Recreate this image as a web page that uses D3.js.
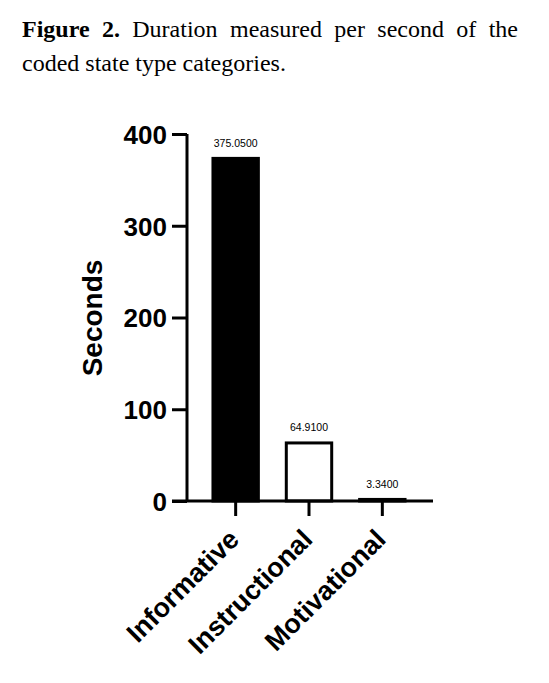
<!DOCTYPE html>
<html lang="en">
<head>
    <meta charset="UTF-8">
    <script src="https://d3js.org/d3.v7.min.js"></script>
    <title>Figure 2</title>
    <style>
        body { margin: 0; background: #fff; }
        #caption {
            position: absolute; left: 22px; top: 12px; width: 496px;
            font-family: "Times New Roman", "Liberation Serif", serif;
            font-size: 24px; line-height: 34px; color: #000;
        }
        #caption .first { text-align: justify; text-align-last: justify; }
        #chart { position: absolute; left: 0; top: 0; }
    </style>
</head>
<body>
    <div id="caption">
        <div class="first"><b>Figure&nbsp;2.</b> Duration measured per second of the</div>
        <div>coded state type categories.</div>
    </div>
    <svg id="chart"></svg>
    <script>
        //data
        const categories = ["Informative", "Instructional", "Motivational"];
        const seconds = [375.05, 64.91, 3.34];
        const valueLabels = ["375.0500", "64.9100", "3.3400"];
        const yTicks = [0, 100, 200, 300, 400];
        const fills = ["#000", "#fff", "#fff"];

        const w = 549;
        const h = 683;

        const svg = d3.select("#chart")
        .attr("width", w)
        .attr("height", h);

        //scales
        const yScale = d3.scaleLinear()
        .domain([0, 400])
        .range([501, 134]);

        const xScale = d3.scaleBand()
        .domain(categories)
        .range([199, 419])
        .paddingInner(0.34)
        .paddingOuter(0.17);

        //bars
        svg.selectAll("rect.bar")
        .data(seconds)
        .enter()
        .append("rect")
        .attr("class", "bar")
        .attr("x", (d, i) => xScale(categories[i]) + 1.5)
        .attr("y", d => yScale(d) + 1.5)
        .attr("width", xScale.bandwidth() - 3)
        .attr("height", d => Math.max(0, yScale(0) - yScale(d) - 1.5))
        .attr("fill", (d, i) => fills[i])
        .attr("stroke", "#000")
        .attr("stroke-width", 3);

        //value labels
        svg.selectAll("text.val")
        .data(valueLabels)
        .enter()
        .append("text")
        .attr("class", "val")
        .attr("x", (d, i) => xScale(categories[i]) + xScale.bandwidth() / 2)
        .attr("y", (d, i) => yScale(seconds[i]) - 10)
        .attr("text-anchor", "middle")
        .attr("font-family", "Arial, 'Liberation Sans', sans-serif")
        .attr("font-size", 10.5)
        .text(d => d);

        //y axis
        const yAxis = d3.axisLeft(yScale)
        .tickValues(yTicks)
        .tickSize(15)
        .tickPadding(5);

        const gy = svg.append("g")
        .attr("transform", "translate(187, 0)")
        .call(yAxis);

        gy.select(".domain").attr("stroke-width", 3).attr("d", "M0," + yScale(400) + "V" + yScale(0));
        gy.selectAll(".tick line").attr("stroke-width", 3);
        gy.selectAll(".tick text")
        .attr("font-family", "Arial, 'Liberation Sans', sans-serif")
        .attr("font-weight", "bold")
        .attr("font-size", 26)
        .attr("dy", "0.36em");

        //x axis
        const xAxis = d3.axisBottom(xScale)
        .tickSize(15)
        .tickSizeOuter(0);

        const gx = svg.append("g")
        .attr("transform", "translate(0, " + yScale(0) + ")")
        .call(xAxis);

        gx.select(".domain").attr("stroke-width", 3).attr("d", "M172,0H433");
        gx.selectAll(".tick line").attr("stroke-width", 3);
        gx.selectAll(".tick text")
        .attr("font-family", "Arial, 'Liberation Sans', sans-serif")
        .attr("font-weight", "bold")
        .attr("font-size", 27)
        .attr("text-anchor", "end")
        .attr("dy", 0)
        .attr("transform", "translate(5, 40) rotate(-45)")
        .attr("y", 0)
        .attr("x", 0);

        //y axis title
        svg.append("text")
        .attr("transform", "translate(102, 318) rotate(-90)")
        .attr("text-anchor", "middle")
        .attr("font-family", "Arial, 'Liberation Sans', sans-serif")
        .attr("font-weight", "bold")
        .attr("font-size", 28)
        .text("Seconds");
    </script>
</body>
</html>
